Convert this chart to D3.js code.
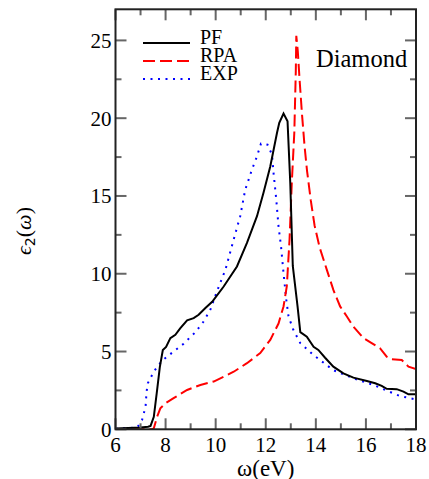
<!DOCTYPE html>
<html>
<head>
<meta charset="utf-8">
<script src="https://cdn.jsdelivr.net/npm/d3@7"></script>
<style>
  body { margin: 0; background: #fff; }
  svg { display: block; }
</style>
</head>
<body>
<svg id="chart" width="429" height="479"></svg>
<script>
// photon energy (eV) and eps2
const pfX = [6, 6.5, 7, 7.3, 7.4, 7.53, 7.66, 7.77, 7.89, 8.02, 8.19, 8.39, 8.59, 8.86, 9.12, 9.32, 9.59, 9.86, 10.32, 10.85, 11.25, 11.65, 11.91, 12.18, 12.45, 12.54, 12.71, 12.87, 12.98, 13.08, 13.27, 13.38, 13.64, 13.91, 14.1, 14.37, 14.7, 15.1, 15.5, 16.04, 16.37, 16.63, 16.83, 17.23, 17.5, 17.7, 18]
const pfY = [0.05, 0.08, 0.12, 0.16, 0.22, 0.8, 2.5, 4.0, 5.1, 5.3, 5.86, 6.07, 6.5, 7.0, 7.15, 7.36, 7.8, 8.2, 9.18, 10.47, 11.98, 13.7, 15.2, 16.9, 19.06, 19.7, 20.3, 19.8, 15.8, 10.5, 7.9, 6.25, 5.96, 5.3, 5.1, 4.6, 4.03, 3.6, 3.32, 3.11, 2.96, 2.79, 2.6, 2.58, 2.42, 2.25, 2.25]

const rpaX = [6, 7.45, 7.53, 7.66, 7.79, 7.99, 8.32, 8.86, 9.39, 9.92, 10.72, 11.25, 11.78, 12.18, 12.51, 12.71, 12.84, 12.95, 13.04, 13.14, 13.2, 13.22, 13.28, 13.35, 13.45, 13.55, 13.65, 13.8, 13.95, 14.15, 14.44, 14.7, 14.97, 15.24, 15.5, 15.9, 16.23, 16.57, 16.83, 17.03, 17.43, 17.7, 18]
const rpaY = [0, 0, 0.06, 0.8, 1.35, 1.67, 2.0, 2.53, 2.85, 3.07, 3.7, 4.25, 4.9, 5.75, 6.8, 7.9, 9.18, 12.19, 15.84, 19.06, 23, 25.3, 24.3, 22.5, 20.2, 18.2, 16.6, 14.7, 13.1, 11.7, 10.25, 8.96, 7.9, 7.25, 6.6, 5.86, 5.54, 5.2, 4.67, 4.5, 4.46, 4.03, 3.88]

const expX = [6, 6.8, 6.9, 7.06, 7.2, 7.24, 7.29, 7.4, 7.53, 7.7, 7.93, 8.32, 8.72, 9.19, 9.52, 9.79, 10.05, 10.39, 10.72, 10.98, 11.18, 11.45, 11.65, 11.81, 12.07, 12.25, 12.31, 12.42, 12.51, 12.61, 12.71, 12.82, 12.91, 13.1, 13.38, 13.9, 14.7, 15.5, 16.3, 16.83, 17.36, 18]
const expY = [0.05, 0.1, 0.2, 0.6, 1.45, 2.4, 2.96, 3.3, 3.7, 4.1, 4.5, 5.0, 5.5, 6.24, 6.93, 7.7, 8.86, 10.26, 12.2, 13.7, 15.4, 16.7, 17.55, 18.37, 18.3, 17.66, 16.5, 14.77, 13.05, 11.76, 10.04, 8.33, 7.25, 6.4, 5.54, 4.78, 3.8, 3.28, 2.85, 2.49, 2.14, 1.92]

const xTicks = [6, 8, 10, 12, 14, 16, 18]
const xMinor = [7, 9, 11, 13, 15, 17]
const yTicks = [0, 5, 10, 15, 20, 25]
const yMinor = [2.5, 7.5, 12.5, 17.5, 22.5]

const seriesNames = ['PF', 'RPA', 'EXP']

const width = 429
const height = 479
const margin = { top: 9.3, right: 13, bottom: 49.7, left: 115.5 }
const innerWidth = width - margin.left - margin.right
const innerHeight = height - margin.top - margin.bottom

const serif = "'Liberation Serif', 'DejaVu Serif', serif"

const svg = d3.select('#chart')

svg.append('rect')
  .attr('width', width)
  .attr('height', height)
  .attr('fill', '#fff')

// scales
const xScale = d3.scaleLinear().domain([6, 18]).range([0, innerWidth])
const yScale = d3.scaleLinear().domain([0, 27]).range([innerHeight, 0])

const g = svg.append('g')
  .attr('transform', `translate(${margin.left},${margin.top})`)

g.append('clipPath').attr('id', 'clip')
  .append('rect')
  .attr('width', innerWidth)
  .attr('height', innerHeight)

// lines
const styles = {
  PF: { color: '#000', dash: null, width: 2 },
  RPA: { color: '#ff0000', dash: '12,5', width: 2 },
  EXP: { color: '#0000ff', dash: '2,5.5', width: 2 }
}
const seriesData = {
  PF: pfX.map((x, i) => [x, pfY[i]]),
  RPA: rpaX.map((x, i) => [x, rpaY[i]]),
  EXP: expX.map((x, i) => [x, expY[i]])
}

const line = d3.line()
  .x(d => xScale(d[0]))
  .y(d => yScale(d[1]))

const plot = g.append('g').attr('clip-path', 'url(#clip)')
;['EXP', 'RPA', 'PF'].forEach(key => {
  plot.append('path')
    .datum(seriesData[key])
    .attr('fill', 'none')
    .attr('stroke', styles[key].color)
    .attr('stroke-width', styles[key].width)
    .attr('stroke-dasharray', styles[key].dash)
    .attr('stroke-linejoin', 'miter')
    .attr('d', line)
})

// inward ticks on all four sides
const tickColor = '#666'
const tickG = g.append('g').attr('stroke', tickColor).attr('stroke-width', 2)
const addXTicks = (vals, len) => {
  vals.forEach(v => {
    tickG.append('line')
      .attr('x1', xScale(v)).attr('x2', xScale(v))
      .attr('y1', innerHeight).attr('y2', innerHeight - len)
    tickG.append('line')
      .attr('x1', xScale(v)).attr('x2', xScale(v))
      .attr('y1', 0).attr('y2', len)
  })
}
const addYTicks = (vals, len) => {
  vals.forEach(v => {
    tickG.append('line')
      .attr('x1', 0).attr('x2', len)
      .attr('y1', yScale(v)).attr('y2', yScale(v))
    tickG.append('line')
      .attr('x1', innerWidth).attr('x2', innerWidth - len)
      .attr('y1', yScale(v)).attr('y2', yScale(v))
  })
}
addXTicks(xTicks, 11)
addXTicks(xMinor, 6)
addYTicks(yTicks, 11)
addYTicks(yMinor, 6)

// frame
g.append('rect')
  .attr('width', innerWidth)
  .attr('height', innerHeight)
  .attr('fill', 'none')
  .attr('stroke', '#222')
  .attr('stroke-width', 2)

// tick labels
g.append('g').selectAll('text')
  .data(xTicks)
  .join('text')
  .attr('x', d => xScale(d))
  .attr('y', innerHeight + 23)
  .attr('text-anchor', 'middle')
  .attr('font-family', serif)
  .attr('font-size', 21)
  .text(d => d)

g.append('g').selectAll('text')
  .data(yTicks)
  .join('text')
  .attr('x', -4)
  .attr('y', d => yScale(d) + 7.5)
  .attr('text-anchor', 'end')
  .attr('font-family', serif)
  .attr('font-size', 21)
  .text(d => d)

// axis titles
svg.append('text')
  .attr('x', margin.left + innerWidth / 2)
  .attr('y', 476)
  .attr('text-anchor', 'middle')
  .attr('font-family', serif)
  .attr('font-size', 23)
  .text('ω(eV)')

const yTitle = svg.append('text')
  .attr('transform', 'translate(31,231) rotate(-90)')
  .attr('text-anchor', 'middle')
  .attr('font-family', serif)
  .attr('font-size', 22)
yTitle.append('tspan').attr('font-style', 'italic').text('ϵ')
yTitle.append('tspan').attr('font-family', "'DejaVu Sans', sans-serif").attr('font-size', 14).attr('dy', 4).text('2')
yTitle.append('tspan').attr('dy', -4).text('(')
yTitle.append('tspan').attr('font-style', 'italic').text('ω')
yTitle.append('tspan').text(')')

// legend
const legendG = svg.append('g')
seriesNames.forEach((key, i) => {
  const y = 43 + i * 18
  legendG.append('line')
    .attr('x1', 143).attr('x2', 190)
    .attr('y1', y).attr('y2', y)
    .attr('stroke', styles[key].color)
    .attr('stroke-width', 2)
    .attr('stroke-dasharray', styles[key].dash)
  legendG.append('text')
    .attr('x', 200)
    .attr('y', y + 1)
    .attr('font-family', serif)
    .attr('font-size', 20)
    .text(key)
})

svg.append('text')
  .attr('x', 316)
  .attr('y', 67)
  .attr('font-family', serif)
  .attr('font-size', 24.5)
  .text('Diamond')
</script>
</body>
</html>
